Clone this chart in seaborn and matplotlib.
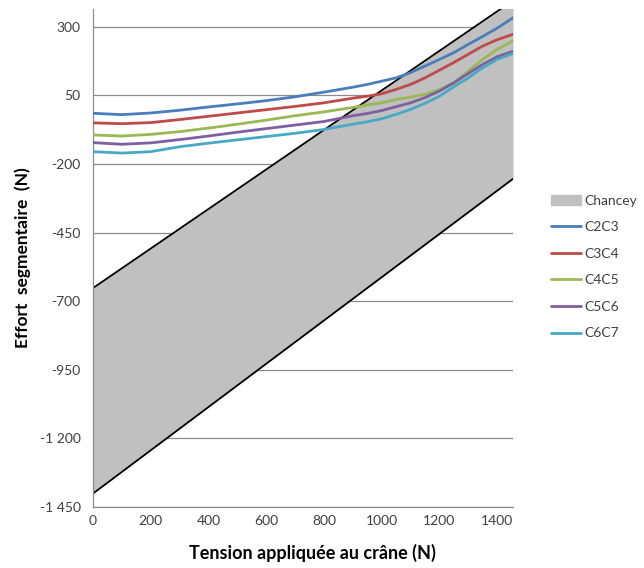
import matplotlib
matplotlib.use("Agg")
import matplotlib.pyplot as plt
import matplotlib.patches as mpatches
import seaborn as sns
import pandas as pd

# Tension applied to the skull (N)
tension = [0, 100, 200, 300, 400, 500, 600, 700, 800, 900, 950, 1000, 1050,
           1100, 1150, 1200, 1250, 1300, 1350, 1400, 1455]

# Segmental loads (N)
c2c3 = [-15, -20, -14, -4, 8, 19, 31, 45, 62, 80, 90, 102, 114,
        133, 157, 181, 206, 236, 265, 295, 333]
c3c4 = [-50, -53, -49, -38, -26, -14, -2, 10, 23, 40, 47, 56, 72,
        90, 114, 142, 170, 200, 230, 253, 273]
c4c5 = [-94, -98, -92, -82, -69, -55, -40, -24, -10, 6, 15, 23, 35,
        44, 54, 72, 96, 139, 181, 218, 249]
c5c6 = [-122, -128, -123, -111, -98, -84, -71, -58, -45, -24, -16, -5, 9,
        23, 42, 66, 96, 130, 163, 191, 211]
c6c7 = [-155, -160, -155, -137, -124, -112, -100, -88, -74, -55, -46, -35, -19,
        -1, 21, 47, 82, 114, 151, 181, 203]

# Chancey corridor (lower / upper bounds)
chancey_x = [0, 1455]
chancey_low = [-1401, -254]
chancey_high = [-652, 396]

series = ["C2C3", "C3C4", "C4C5", "C5C6", "C6C7"]
colors = ["#4A7EBB", "#BE4B48", "#98B954", "#7D60A0", "#46AAC5"]

yticks = [300, 50, -200, -450, -700, -950, -1200, -1450]
yticklabels = ["300", "50", "-200", "-450", "-700", "-950", "-1 200", "-1 450"]
xticks = [0, 200, 400, 600, 800, 1000, 1200, 1400]

df = pd.DataFrame({
    "tension": tension * len(series),
    "effort": c2c3 + c3c4 + c4c5 + c5c6 + c6c7,
    "segment": [s for s in series for _ in tension],
})

sns.set_style("white")
plt.rcParams["font.family"] = ["Lato", "DejaVu Sans"]

fig = plt.figure(figsize=(6.44, 5.68), dpi=100)
ax = fig.add_axes([93 / 644, 1 - 507 / 568, 420 / 644, 498 / 568])

# grey corridor with black borders
ax.fill_between(chancey_x, chancey_low, chancey_high, color="#C0C0C0", lw=0, zorder=1)
ax.plot(chancey_x, chancey_low, color="black", lw=1.3, zorder=2)
ax.plot(chancey_x, chancey_high, color="black", lw=1.3, zorder=2)

sns.lineplot(data=df, x="tension", y="effort", hue="segment", palette=colors,
             linewidth=2, ax=ax, legend=False, zorder=3)

for y in yticks:
    ax.axhline(y, color="#8C8C8C", lw=0.9, zorder=0.5)

ax.set_xlim(0, 1455)
ax.set_ylim(-1450, 365)
ax.set_xticks(xticks)
ax.set_yticks(yticks)
ax.set_yticklabels(yticklabels)
ax.tick_params(axis="both", labelsize=10, colors="#404040", length=0, pad=6)
ax.tick_params(axis="y", length=5, color="#8C8C8C", direction="out", pad=4)

for side in ["top", "right"]:
    ax.spines[side].set_visible(False)
for side in ["left", "bottom"]:
    ax.spines[side].set_color("#8C8C8C")
    ax.spines[side].set_linewidth(0.9)

ax.set_xlabel("Tension appliquée au crâne (N)", fontsize=13, fontweight="bold",
              color="black", labelpad=11)
ax.xaxis.set_label_coords((312 - 93) / 420, -0.075)
ax.set_ylabel("Effort  segmentaire  (N)", fontsize=12.5, fontweight="bold",
              color="black", labelpad=6)

# legend on the right
handles = [mpatches.Patch(color="#C0C0C0", label="Chancey")]
for s, c in zip(series, colors):
    handles.append(plt.Line2D([], [], color=c, lw=2, label=s))
fig.legend(handles=handles, loc="upper left", bbox_to_anchor=(545 / 644, 1 - 189 / 568),
           frameon=False, fontsize=10, labelcolor="#404040", handlelength=2.2,
           handletextpad=0.2, labelspacing=1.05, borderaxespad=0)

plt.savefig("out.png", dpi=100)
